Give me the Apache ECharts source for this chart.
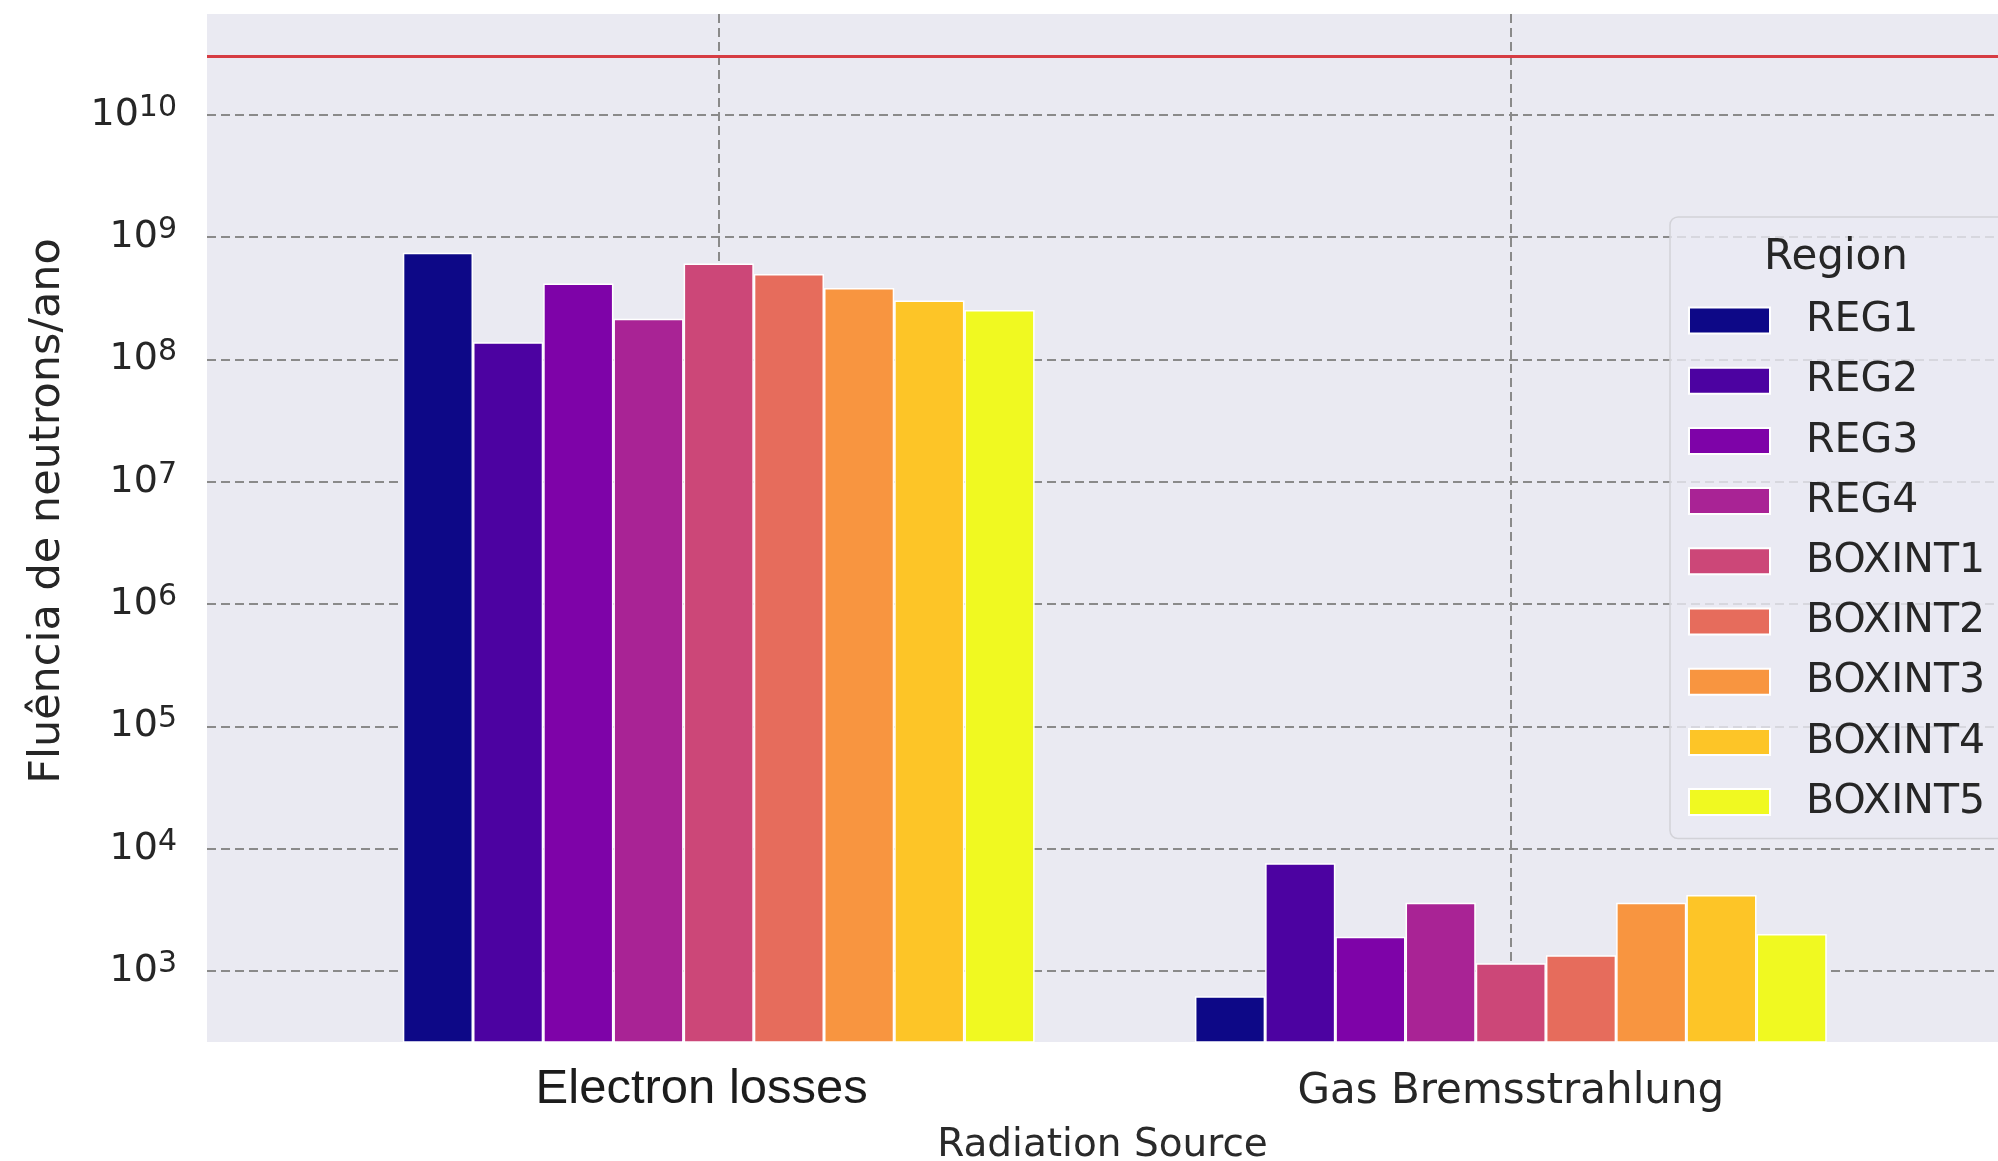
<!DOCTYPE html>
<html>
<head>
<meta charset="utf-8">
<title>Fluência de neutrons por fonte de radiação</title>
<script src="https://cdn.jsdelivr.net/npm/echarts@6/dist/echarts.min.js"></script>
<style>
  html, body { margin: 0; padding: 0; background: #ffffff; }
  #chart { width: 1998px; height: 1161px; }
</style>
</head>
<body>
<div id="chart"></div>
<script>
// Radiation sources on the x axis, placed at integer positions
const sources = ['Electron losses', 'Gas Bremsstrahlung'];
const sourcePositions = [0, 1];

// Shielding regions (one bar per region inside each source group)
const regions = ['REG1', 'REG2', 'REG3', 'REG4', 'BOXINT1', 'BOXINT2', 'BOXINT3', 'BOXINT4', 'BOXINT5'];

// Neutron fluence per year, per region
const electronLosses    = [7.45e8, 1.38e8, 4.17e8, 2.15e8, 6.10e8, 4.99e8, 3.84e8, 3.03e8, 2.54e8];
const gasBremsstrahlung = [622, 7620, 1910, 3610, 1160, 1345, 3610, 4190, 2010];

// Plasma palette, one colour per region
const regionColors = ['#0d0887', '#4c02a1', '#7e03a8', '#a92395', '#cc4778', '#e66c5c', '#f89540', '#fdc527', '#f0f921'];

// Reference limit drawn as a horizontal line
const limitLevel = 3e10;

// Decade exponents shown as y tick labels (10^3 ... 10^10)
const decadeExponents = [3, 4, 5, 6, 7, 8, 9, 10];

const textColor = '#262626';
const gridLine = { type: [9, 5], color: '#8a8a8a', width: 2 };

const series = regions.map((name, i) => {
  const s = {
    name: name,
    type: 'bar',
    barWidth: 70.2,
    barGap: '0%',
    data: sourcePositions.map((x, k) => [x, [electronLosses, gasBremsstrahlung][k][i]]),
    itemStyle: { color: regionColors[i], borderColor: '#ffffff', borderWidth: 1.5 },
    emphasis: { disabled: true }
  };
  if (i === 0) {
    s.markLine = {
      silent: true,
      symbol: ['none', 'none'],
      label: { show: false },
      lineStyle: { color: '#d63c43', width: 3, type: 'solid' },
      data: [{ yAxis: limitLevel }]
    };
  }
  return s;
});

const chart = echarts.init(document.getElementById('chart'), null, { renderer: 'canvas' });

chart.setOption({
  animation: false,
  backgroundColor: '#ffffff',
  grid: {
    left: 207, top: 14, right: 0, bottom: 119,
    outerBoundsMode: 'none',
    show: true, backgroundColor: '#eaeaf2', borderWidth: 0
  },
  title: {
    text: 'Region',
    left: 1836, top: 237, textAlign: 'center', padding: 0,
    textStyle: { fontFamily: 'DejaVu Sans', fontSize: 42, fontWeight: 'normal', color: textColor }
  },
  legend: {
    orient: 'vertical',
    left: 1670, top: 217,
    padding: [83, 60, 16, 18],
    itemWidth: 81, itemHeight: 26, itemGap: 19.2,
    icon: 'rect',
    backgroundColor: 'rgba(234,234,242,0.8)',
    borderColor: '#d2d2d8', borderWidth: 1.5, borderRadius: 8,
    textStyle: { fontFamily: 'DejaVu Sans', fontSize: 41, color: textColor, lineHeight: 40, padding: [0, 0, 0, 31] },
    data: regions
  },
  xAxis: {
    type: 'value',
    min: -0.646, max: 1.615, splitNumber: 2,
    axisLine: { show: false }, axisTick: { show: false },
    splitLine: { show: true, showMinLine: false, showMaxLine: false, lineStyle: gridLine },
    axisLabel: {
      margin: 23, showMinLabel: false, showMaxLabel: false,
      formatter: v => {
        const k = sourcePositions.indexOf(Math.round(v * 1000) / 1000);
        if (k < 0) return '';
        return (k === 0 ? '{e|' : '{g|') + sources[k] + '}';
      },
      rich: {
        e: { fontFamily: 'Liberation Sans', fontSize: 49, color: '#1c1c1c', padding: [0, 34, 0, 0] },
        g: { fontFamily: 'DejaVu Sans', fontSize: 42, color: textColor, padding: [6, 0, 0, 0] }
      }
    },
    name: 'Radiation Source',
    nameLocation: 'middle', nameGap: 84,
    nameTextStyle: { fontFamily: 'DejaVu Sans', fontSize: 39, color: '#2a2a2a' }
  },
  yAxis: {
    type: 'log', logBase: 10,
    min: 263, max: 6.67e10, splitNumber: 10,
    axisLine: { show: false }, axisTick: { show: false },
    splitLine: { show: true, showMinLine: false, showMaxLine: false, lineStyle: gridLine },
    axisLabel: {
      margin: 30, showMinLabel: false, showMaxLabel: false,
      formatter: v => {
        const e = Math.round(Math.log10(v) * 1000) / 1000;
        if (decadeExponents.indexOf(e) < 0) return '';
        return '{b|10}{s|' + e + '}';
      },
      rich: {
        b: { fontFamily: 'DejaVu Sans', fontSize: 38, color: textColor, lineHeight: 44, verticalAlign: 'middle' },
        s: { fontFamily: 'DejaVu Sans', fontSize: 30, color: textColor, lineHeight: 30, verticalAlign: 'top' }
      }
    },
    name: 'Fluência de neutrons/ano',
    nameLocation: 'middle', nameRotate: 90, nameGap: 138,
    nameTextStyle: { fontFamily: 'DejaVu Sans', fontSize: 43, color: textColor, padding: [0, 0, 0, 34] }
  },
  series: series
});
</script>
</body>
</html>
